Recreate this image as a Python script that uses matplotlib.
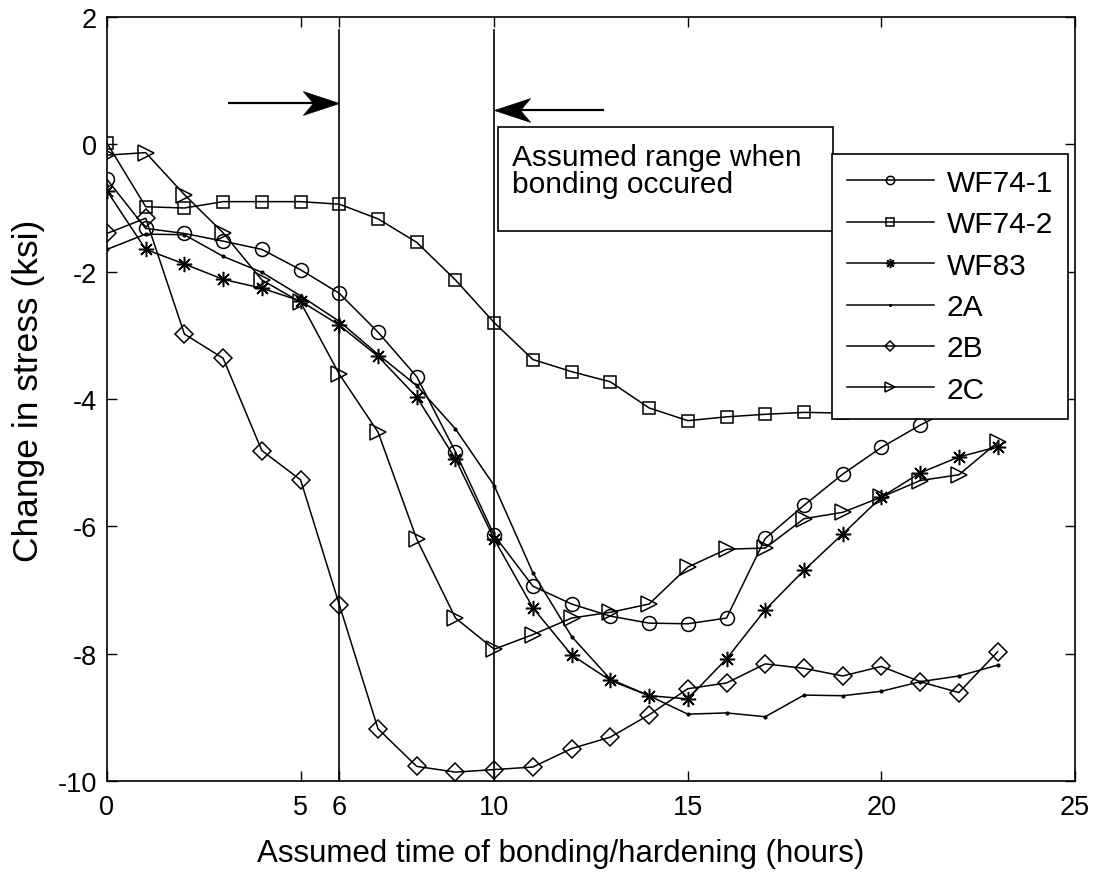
import matplotlib
matplotlib.use("Agg")
import matplotlib.pyplot as plt
from matplotlib.patches import Rectangle
from matplotlib.path import Path

plt.rcParams['font.family'] = ['Liberation Sans', 'DejaVu Sans']

hours = list(range(24))

wf74_1 = [-0.55, -1.32, -1.40, -1.52, -1.65, -1.97, -2.34, -2.95, -3.65, -4.83,
          -6.14, -6.94, -7.22, -7.41, -7.52, -7.53, -7.44, -6.19, -5.67, -5.18,
          -4.76, -4.41, -4.10, -3.80]
wf74_2 = [0.02, -0.98, -1.00, -0.90, -0.90, -0.90, -0.94, -1.17, -1.54, -2.13,
          -2.80, -3.38, -3.57, -3.73, -4.14, -4.34, -4.28, -4.24, -4.21, -4.22,
          -4.18, -4.15, -4.12, -4.10]
wf83 = [-0.73, -1.65, -1.88, -2.12, -2.26, -2.46, -2.84, -3.33, -3.97, -4.94,
        -6.20, -7.28, -8.02, -8.42, -8.66, -8.71, -8.08, -7.31, -6.69, -6.12,
        -5.54, -5.16, -4.91, -4.75]
s2a = [-1.65, -1.41, -1.42, -1.76, -2.01, -2.38, -2.78, -3.30, -3.79, -4.47,
       -5.36, -6.73, -7.73, -8.40, -8.66, -8.95, -8.93, -8.99, -8.65, -8.66,
       -8.59, -8.44, -8.35, -8.18]
s2b = [-1.40, -1.16, -2.98, -3.36, -4.81, -5.27, -7.23, -9.18, -9.77, -9.86,
       -9.82, -9.78, -9.49, -9.31, -8.96, -8.55, -8.46, -8.16, -8.23, -8.35,
       -8.20, -8.44, -8.61, -7.97]
s2c = [-0.17, -0.13, -0.79, -1.39, -2.13, -2.48, -3.61, -4.52, -6.20, -7.44,
       -7.93, -7.70, -7.44, -7.35, -7.22, -6.64, -6.36, -6.34, -5.88, -5.78,
       -5.54, -5.28, -5.19, -4.68]

series_names = ['WF74-1', 'WF74-2', 'WF83', '2A', '2B', '2C']
x_ticks = [0, 5, 6, 10, 15, 20, 25]
y_ticks = [-10, -8, -6, -4, -2, 0, 2]
range_bounds = [6, 10]

fig = plt.figure(figsize=(10.97, 8.78), dpi=100)
ax = fig.add_axes([0.0975, 0.1093, 0.8825, 0.8702])

common = dict(color='black', lw=1.1, mfc='none', mec='black', mew=1.1)
ax.plot(hours, wf74_1, marker='o', ms=10, label=series_names[0], **common)
ax.plot(hours, wf74_2, marker='s', ms=9, label=series_names[1], **common)
ax.plot(hours, wf83, marker=(8, 2, 0), ms=11, label=series_names[2], **common)
ax.plot(hours, s2a, marker='.', ms=4, label=series_names[3],
        color='black', lw=1.1, mfc='black', mec='black')
ax.plot(hours, s2b, marker='D', ms=9, label=series_names[4], **common)
ax.plot(hours, s2c, marker='>', ms=11, label=series_names[5], **common)

# bounds of the bonding window
for xb in range_bounds:
    ax.plot([xb, xb], [-10, 1.8], color='black', lw=1.2, zorder=3)

# notched arrowheads, tip at the origin of the marker path
head_right = Path([(0, 0), (-1.0, 0.33), (-0.72, 0), (-1.0, -0.33), (0, 0)],
                  [Path.MOVETO, Path.LINETO, Path.LINETO, Path.LINETO,
                   Path.CLOSEPOLY])
head_left = Path([(0, 0), (1.0, 0.33), (0.72, 0), (1.0, -0.33), (0, 0)],
                 [Path.MOVETO, Path.LINETO, Path.LINETO, Path.LINETO,
                  Path.CLOSEPOLY])


def draw_arrow(x_tail, x_tip, y, head, back):
    ax.plot([x_tail, x_tip + back], [y, y], color='black', lw=1.6, zorder=3,
            solid_capstyle='butt')
    ax.plot([x_tip], [y], marker=head, ms=52, color='black', mec='black',
            mew=0.5, zorder=3, linestyle='none')


draw_arrow(3.13, range_bounds[0], 0.65, head_right, -0.5)
draw_arrow(12.84, range_bounds[1], 0.54, head_left, 0.5)

box = Rectangle((10.1, -1.36), 8.66, 1.63, fill=True, facecolor='white',
                edgecolor='black', lw=1.2, zorder=4)
ax.add_patch(box)
ax.text(10.45, 0.02, 'Assumed range when\nbonding occured', fontsize=21.5,
        va='top', ha='left', linespacing=0.95, zorder=5)

leg = ax.legend(loc='upper right', bbox_to_anchor=(0.993, 0.821),
                borderaxespad=0, fontsize=21.5, handlelength=2.9,
                markerscale=0.6, frameon=True, fancybox=False,
                edgecolor='black', framealpha=1, labelspacing=0.45,
                borderpad=0.5, handletextpad=0.45)
leg.get_frame().set_linewidth(1.2)
leg.set_zorder(6)

ax.set_xlim(0, 25)
ax.set_ylim(-10, 2)
ax.set_xticks(x_ticks)
ax.set_xticklabels([str(t) for t in x_ticks])
ax.set_yticks(y_ticks)
ax.set_yticklabels([str(t) for t in y_ticks])
ax.tick_params(direction='in', top=True, right=True, labelsize=19.5,
               length=7, width=1.0)
ax.tick_params(axis='x', pad=9)
ax.tick_params(axis='y', pad=7)
for sp in ax.spines.values():
    sp.set_linewidth(1.2)

ax.set_xlabel('Assumed time of bonding/hardening (hours)', fontsize=22.5)
ax.xaxis.set_label_coords(0.469, -0.075)
ax.set_ylabel('Change in stress (ksi)', fontsize=25.5)
ax.yaxis.set_label_coords(-0.064, 0.512)

fig.savefig('out.png', dpi=100)
